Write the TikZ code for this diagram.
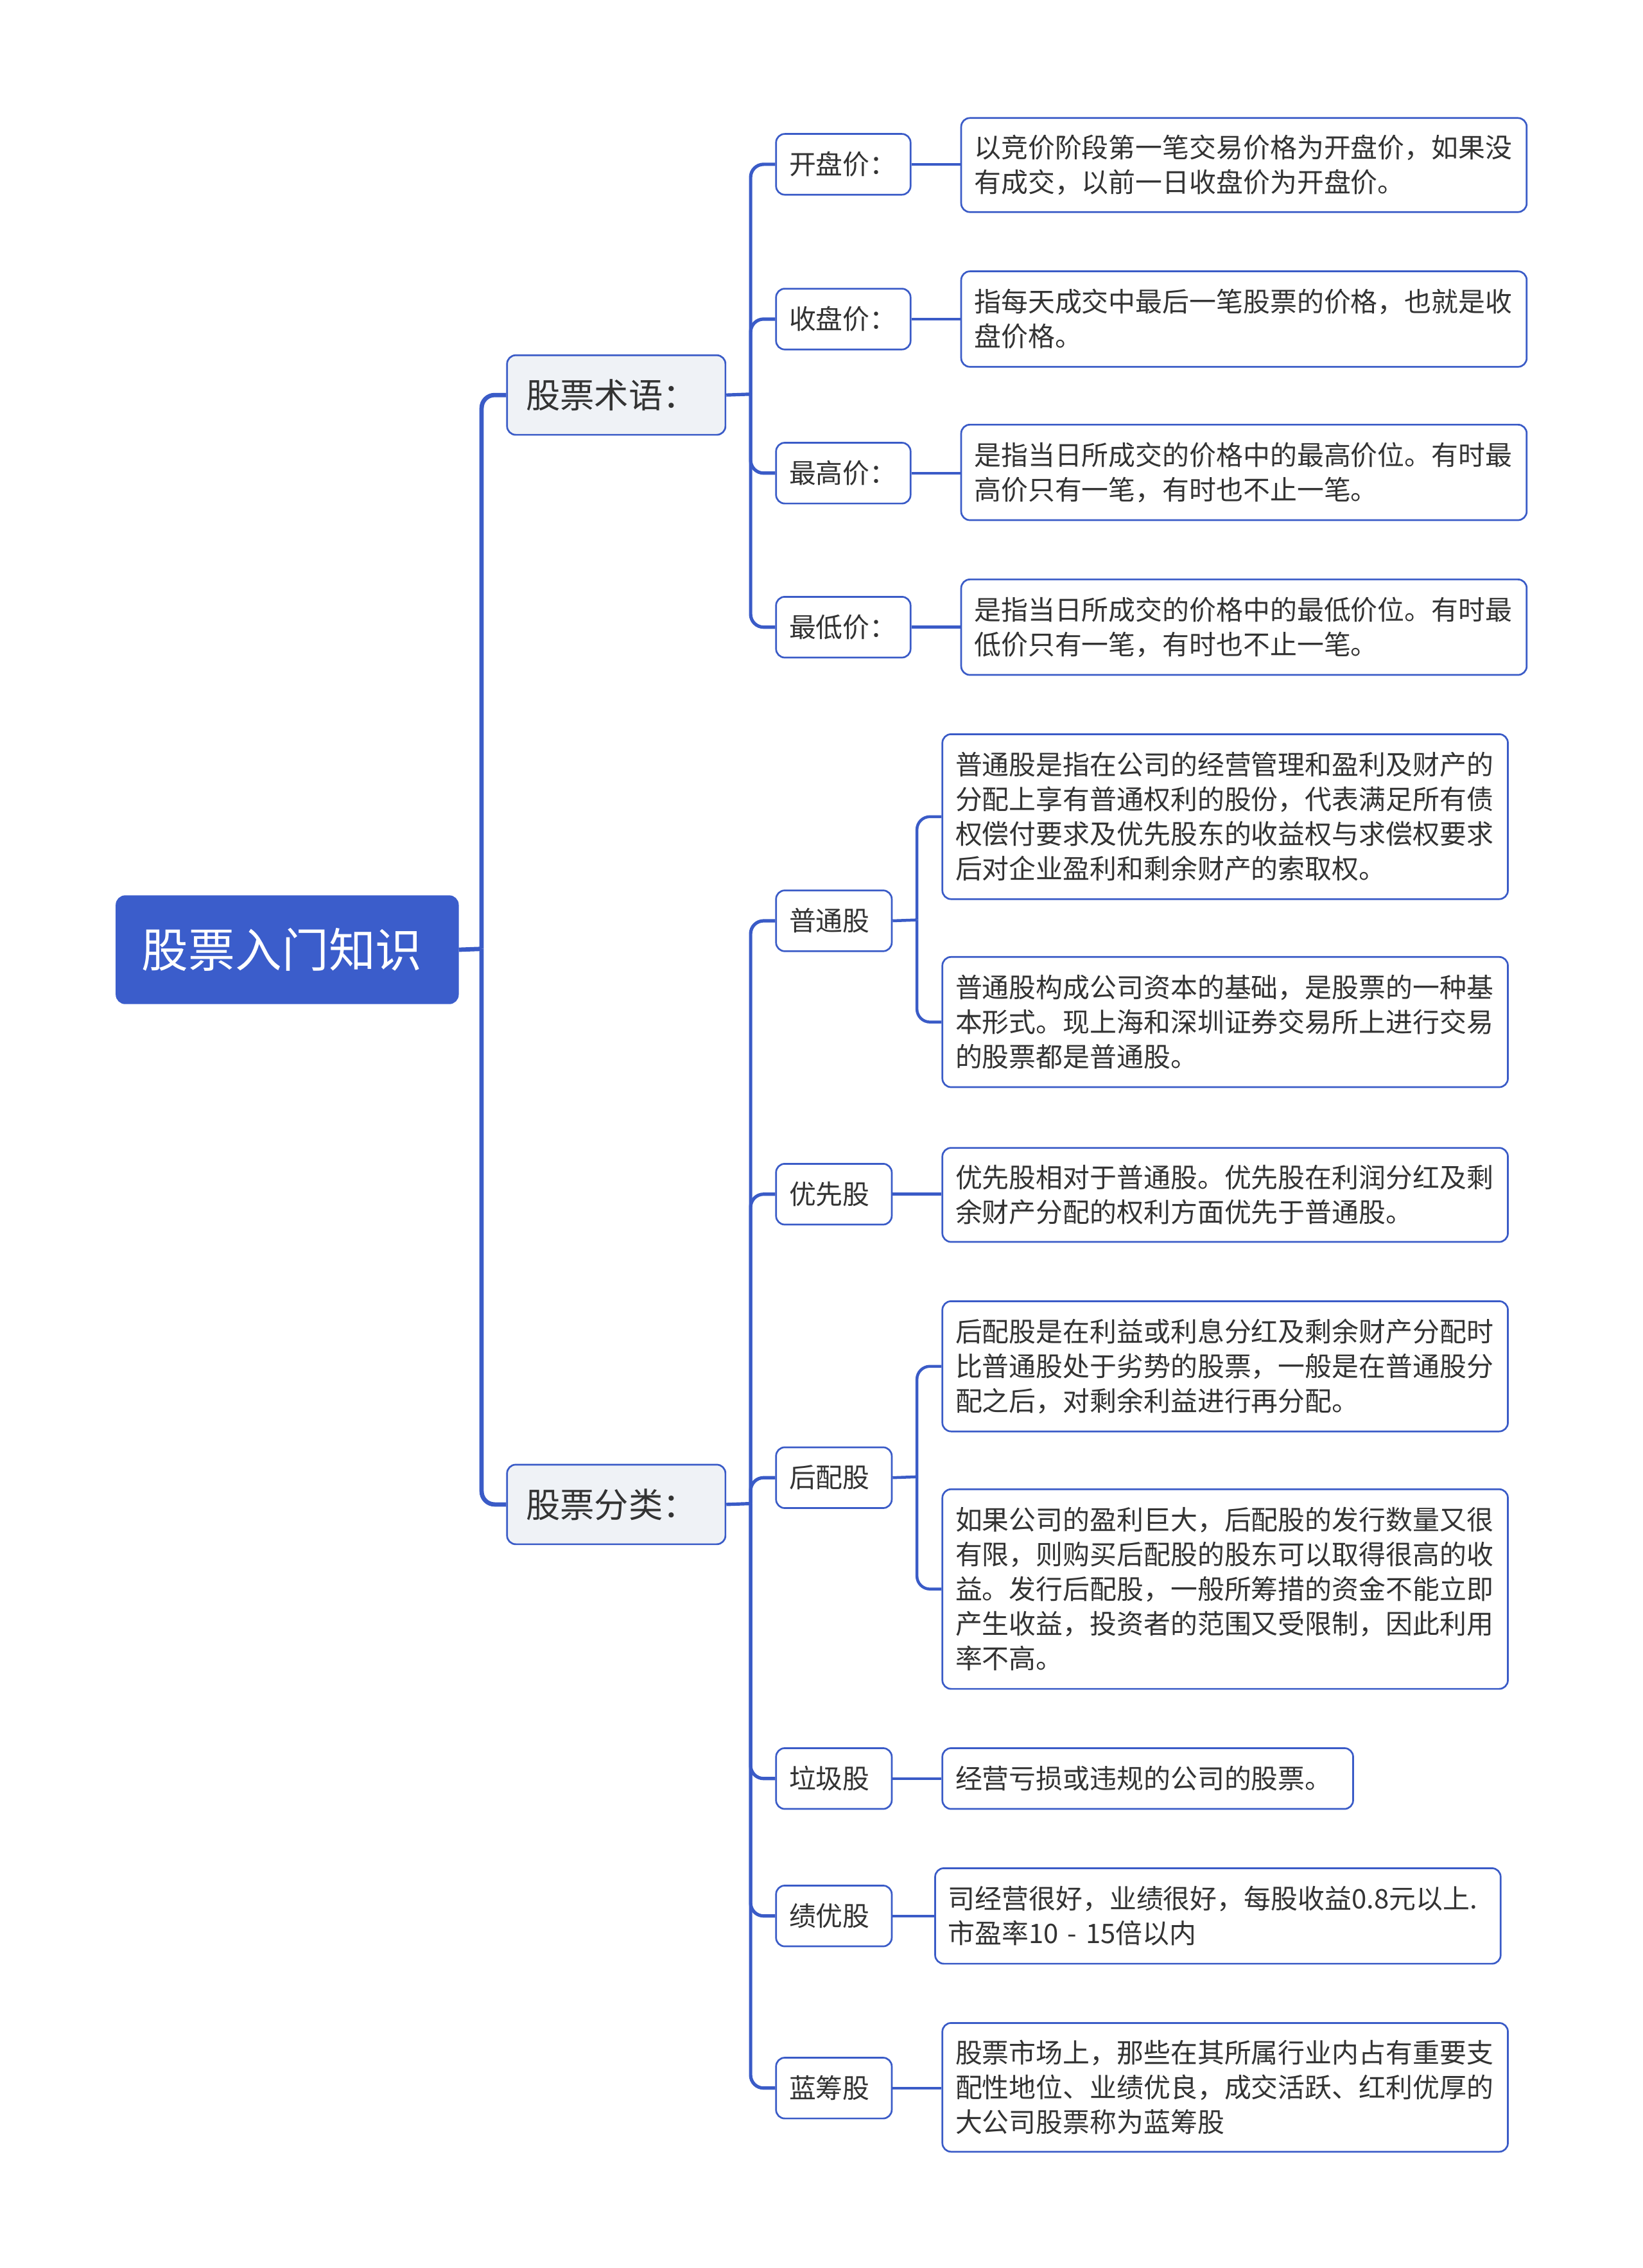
\documentclass[tikz,border=0pt]{standalone}
\usepackage{fontspec}
\setmainfont{Noto Sans CJK SC}
\definecolor{lineblue}{HTML}{3A5BC7}
\definecolor{rootblue}{HTML}{3B5DCB}
\definecolor{lonefill}{HTML}{EFF2F6}
\definecolor{txtgray}{HTML}{333333}
\newcommand{\leaffont}{\fontsize{18.6pt}{24pt}\selectfont}
\begin{document}
\begin{tikzpicture}[x=1pt,y=-1pt,
  box/.style={draw=lineblue, line width=1.2pt, rounded corners=6pt, anchor=north west, inner ysep=0pt, align=left, text=txtgray},
  rootbox/.style={box, fill=rootblue, draw=rootblue, text=white, font=\fontsize{32.3pt}{36pt}\selectfont, inner xsep=17.5pt, text width=201pt, minimum height=74pt},
  lonebox/.style={box, fill=lonefill, font=\fontsize{23.7pt}{28pt}\selectfont, inner xsep=13pt, text width=125pt, minimum height=55pt},
  ltwobox/.style={box, fill=white, font=\leaffont, inner xsep=9pt, minimum height=42pt},
  leafbox/.style={box, fill=white, font=\leaffont, inner xsep=9pt, text width=373pt},
  conn/.style={draw=lineblue, line width=2pt, rounded corners=9pt},
  connroot/.style={conn, line width=3pt},
  connmid/.style={conn, line width=2.3pt}
]
\fill[white] (0,0) rectangle (1136,1568);
\useasboundingbox (0,0) rectangle (1136,1568);

% root and level 1
\node[rootbox] (root) at (80,619) {股票入门知识};
\node[lonebox] (la) at (350,245) {股票术语：};
\node[lonebox] (lb) at (350,1012) {股票分类：};

% level 2 under 股票术语
\node[ltwobox, text width=75pt] (k1) at (536,92) {开盘价：};
\node[ltwobox, text width=75pt] (k2) at (536,199) {收盘价：};
\node[ltwobox, text width=75pt] (k3) at (536,305.5) {最高价：};
\node[ltwobox, text width=75pt] (k4) at (536,412) {最低价：};

% level 2 under 股票分类
\node[ltwobox, text width=62pt] (c1) at (536,615) {普通股};
\node[ltwobox, text width=62pt] (c2) at (536,804) {优先股};
\node[ltwobox, text width=62pt] (c3) at (536,1000) {后配股};
\node[ltwobox, text width=62pt] (c4) at (536,1208) {垃圾股};
\node[ltwobox, text width=62pt] (c5) at (536,1303) {绩优股};
\node[ltwobox, text width=62pt] (c6) at (536,1422) {蓝筹股};

% leaves
\node[leafbox, minimum height=65pt] (t1) at (664,81) {以竞价阶段第一笔交易价格为开盘价，如果没\\有成交，以前一日收盘价为开盘价。};
\node[leafbox, minimum height=66pt] (t2) at (664,187) {指每天成交中最后一笔股票的价格，也就是收\\盘价格。};
\node[leafbox, minimum height=66pt] (t3) at (664,293) {是指当日所成交的价格中的最高价位。有时最\\高价只有一笔，有时也不止一笔。};
\node[leafbox, minimum height=66pt] (t4) at (664,400) {是指当日所成交的价格中的最低价位。有时最\\低价只有一笔，有时也不止一笔。};

\node[leafbox, minimum height=114pt] (p1) at (651,507) {普通股是指在公司的经营管理和盈利及财产的\\分配上享有普通权利的股份，代表满足所有债\\权偿付要求及优先股东的收益权与求偿权要求\\后对企业盈利和剩余财产的索取权。};
\node[leafbox, minimum height=90pt] (p2) at (651,661) {普通股构成公司资本的基础，是股票的一种基\\本形式。现上海和深圳证券交易所上进行交易\\的股票都是普通股。};
\node[leafbox, minimum height=65pt] (y1) at (651,793) {优先股相对于普通股。优先股在利润分红及剩\\余财产分配的权利方面优先于普通股。};
\node[leafbox, minimum height=90pt] (h1) at (651,899) {后配股是在利益或利息分红及剩余财产分配时\\比普通股处于劣势的股票，一般是在普通股分\\配之后，对剩余利益进行再分配。};
\node[leafbox, minimum height=138pt] (h2) at (651,1029) {如果公司的盈利巨大，后配股的发行数量又很\\有限，则购买后配股的股东可以取得很高的收\\益。发行后配股，一般所筹措的资金不能立即\\产生收益，投资者的范围又受限制，因此利用\\率不高。};
\node[leafbox, minimum height=42pt, text width=266pt] (g1) at (651,1208) {经营亏损或违规的公司的股票。};
\node[leafbox, minimum height=66pt] (j1) at (646,1291) {司经营很好，业绩很好，每股收益0.8元以上.\\市盈率10 - 15倍以内};
\node[leafbox, minimum height=89pt] (b1) at (651,1398) {股票市场上，那些在其所属行业内占有重要支\\配性地位、业绩优良，成交活跃、红利优厚的\\大公司股票称为蓝筹股};

% junctions
\coordinate (J0) at (333,656);
\coordinate (Ja) at (519,272.5);
\coordinate (Jb) at (519,1039.5);
\coordinate (Jp) at (634,636);
\coordinate (Jh) at (634,1021);

% root connectors
\draw[connroot] (root.east) -- (J0);
\draw[connroot] (J0) |- (la.west);
\draw[connroot] (J0) |- (lb.west);

% level 1 to level 2
\draw[connmid] (la.east) -- (Ja);
\foreach \n in {k1,k2,k3,k4} \draw[connmid] (Ja) |- (\n.west);
\draw[connmid] (lb.east) -- (Jb);
\foreach \n in {c1,c2,c3,c4,c5,c6} \draw[connmid] (Jb) |- (\n.west);

% level 2 to leaves
\draw[conn] (k1.east) -- (k1.east -| t1.west);
\draw[conn] (k2.east) -- (k2.east -| t2.west);
\draw[conn] (k3.east) -- (k3.east -| t3.west);
\draw[conn] (k4.east) -- (k4.east -| t4.west);
\draw[conn] (c1.east) -- (Jp);
\draw[conn] (Jp) |- (p1.west);
\draw[conn] (Jp) |- (p2.west);
\draw[conn] (c2.east) -- (c2.east -| y1.west);
\draw[conn] (c3.east) -- (Jh);
\draw[conn] (Jh) |- (h1.west);
\draw[conn] (Jh) |- (h2.west);
\draw[conn] (c4.east) -- (c4.east -| g1.west);
\draw[conn] (c5.east) -- (c5.east -| j1.west);
\draw[conn] (c6.east) -- (c6.east -| b1.west);
\end{tikzpicture}
\end{document}
